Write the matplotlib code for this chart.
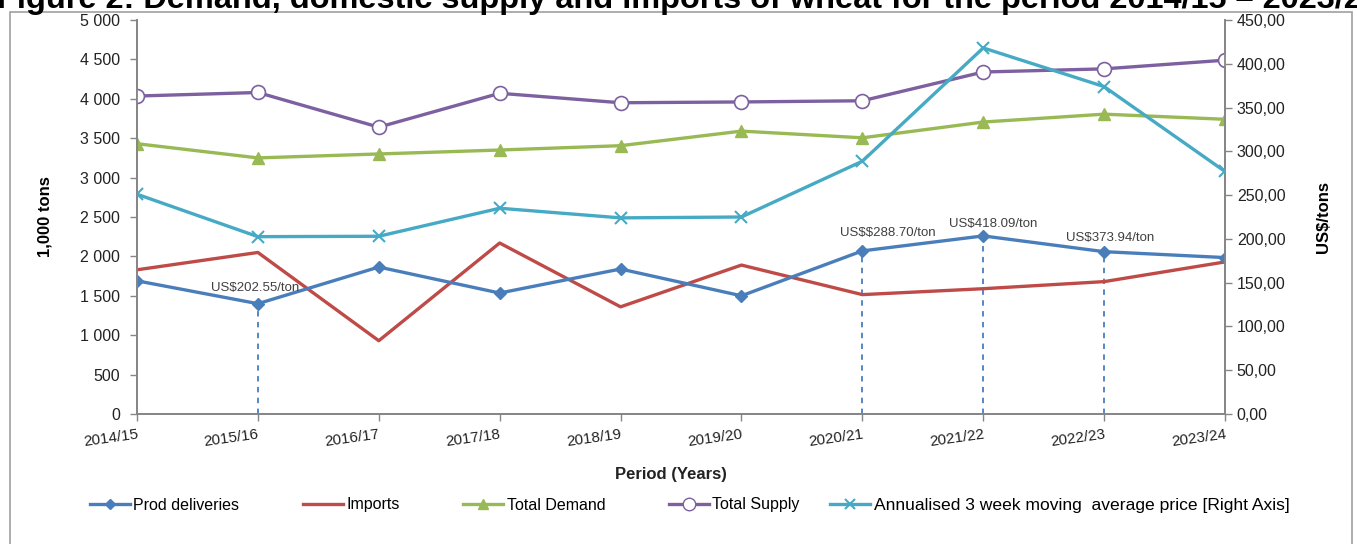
import matplotlib
matplotlib.use("Agg")
import matplotlib.pyplot as plt
from matplotlib.lines import Line2D
from matplotlib.patches import Rectangle
from matplotlib.ticker import FuncFormatter, MultipleLocator

periods = ["2014/15", "2015/16", "2016/17", "2017/18", "2018/19",
           "2019/20", "2020/21", "2021/22", "2022/23", "2023/24"]
prod_deliveries = [1690, 1400, 1865, 1535, 1840, 1500, 2070, 2260, 2060, 1985]
imports = [1830, 2050, 930, 2170, 1360, 1890, 1515, 1590, 1680, 1930]
total_demand = [3430, 3250, 3300, 3350, 3405, 3590, 3505, 3705, 3805, 3740]
total_supply = [4035, 4080, 3640, 4070, 3950, 3960, 3975, 4340, 4380, 4490]
price = [251, 202.55, 203, 235, 224, 225, 288.70, 418.09, 373.94, 277]
annot_idx = [1, 6, 7, 8]
annot_text = ["US$202.55/ton", "US$$288.70/ton", "US$418.09/ton", "US$373.94/ton"]

plt.rcParams['font.family'] = ['Liberation Sans', 'DejaVu Sans']
plt.rcParams['text.parse_math'] = False

C_PROD = "#4A7EBB"
C_IMP = "#BE4B48"
C_DEM = "#98B954"
C_SUP = "#7D60A0"
C_PRICE = "#46AAC5"
C_AX = "#868686"

fig = plt.figure(figsize=(13.57, 5.44), dpi=100)
ax = fig.add_axes([137/1357, 1-414/544, (1225-137)/1357, (414-20)/544])
ax2 = ax.twinx()

x = list(range(len(periods)))

# dashed drop lines
for i in annot_idx:
    ax.plot([x[i], x[i]], [0, prod_deliveries[i]], ls=(0, (3, 3)), color=C_PROD, lw=1.3, zorder=2)

ax.plot(x, imports, color=C_IMP, lw=2.4, zorder=3)
ax.plot(x, total_demand, color=C_DEM, lw=2.4, marker='^', ms=8, zorder=3)
ax.plot(x, total_supply, color=C_SUP, lw=2.4, marker='o', ms=10, mfc='white', mec=C_SUP, mew=1.2, zorder=4)
ax.plot(x, prod_deliveries, color=C_PROD, lw=2.4, marker='D', ms=6, zorder=5)
ax2.plot(x, price, color=C_PRICE, lw=2.4, marker='x', ms=8, mew=1.5, zorder=3)

offsets = [(-3, 10), (25, 12), (10, 6), (6, 8)]
for (i, t, off) in zip(annot_idx, annot_text, offsets):
    ax.annotate(t, (x[i], prod_deliveries[i]), xytext=off, textcoords='offset pixels',
                ha='center', va='bottom', fontsize=9.5, color='#404040', zorder=6)

ax.set_xlim(0, len(periods) - 1)
ax.set_ylim(0, 5000)
ax2.set_ylim(0, 450)
ax.yaxis.set_major_locator(MultipleLocator(500))
ax2.yaxis.set_major_locator(MultipleLocator(50))
ax.yaxis.set_major_formatter(FuncFormatter(lambda v, p: f"{int(v):,}".replace(",", " ")))
ax2.yaxis.set_major_formatter(FuncFormatter(lambda v, p: f"{v:.2f}".replace(".", ",")))
ax.set_xticks(x)
ax.set_xticklabels(periods, rotation=8, ha='right', va='top', rotation_mode='anchor')

for a in (ax, ax2):
    a.spines['top'].set_visible(False)
    for s in ['left', 'right', 'bottom']:
        a.spines[s].set_color(C_AX)
        a.spines[s].set_linewidth(1.3)
    a.tick_params(colors=C_AX, labelcolor='#222222', labelsize=11.5, length=5, width=1)
ax.tick_params(axis='y', pad=7)
ax.tick_params(axis='x', labelsize=11, pad=5)

ax.set_xlabel("Period (Years)", fontsize=12, fontweight='bold', color='#222222')
ax.xaxis.set_label_coords((671 - 137) / (1225 - 137), -(475 - 414) / 394, transform=ax.transAxes)
ax.xaxis.label.set_va('center')
ax.set_ylabel("1,000 tons", fontsize=12, fontweight='bold', labelpad=20)
ax2.set_ylabel("US$/tons", fontsize=12, fontweight='bold', labelpad=22)

handles = [
    Line2D([], [], color=C_PROD, lw=2.4, marker='D', ms=5),
    Line2D([], [], color=C_IMP, lw=2.4),
    Line2D([], [], color=C_DEM, lw=2.4, marker='^', ms=7),
    Line2D([], [], color=C_SUP, lw=2.4, marker='o', ms=9, mfc='white', mec=C_SUP),
    Line2D([], [], color=C_PRICE, lw=2.4, marker='x', ms=7, mew=1.5),
]
labels = ["Prod deliveries", "Imports", "Total Demand", "Total Supply",
          "Annualised 3 week moving  average price [Right Axis]"]
ly = 1 - 505 / 544
leg1 = fig.legend(handles[:4], labels[:4], loc='center left', bbox_to_anchor=(90 / 1357, ly), ncol=4,
                  frameon=False, fontsize=11.5, handlelength=2.5, handletextpad=0.2,
                  columnspacing=4.0, borderpad=0, borderaxespad=0)
leg2 = fig.legend(handles[4:], labels[4:], loc='center left', bbox_to_anchor=(830 / 1357, ly), ncol=1,
                  frameon=False, fontsize=12.6, handlelength=2.3, handletextpad=0.2,
                  borderpad=0, borderaxespad=0)

fig.add_artist(Rectangle((10/1357, -0.05), (1352-10)/1357, 1.05-12/544, transform=fig.transFigure,
                         fill=False, edgecolor='#A0A0A0', lw=1.2))

fig.text(-0.002, 1-8/544, "Figure 2: Demand, domestic supply and imports of wheat for the period 2014/15 \u2013 2023/24",
         fontsize=23.4, fontweight='bold', ha='left', va='baseline')

fig.savefig("out.png", dpi=100)
